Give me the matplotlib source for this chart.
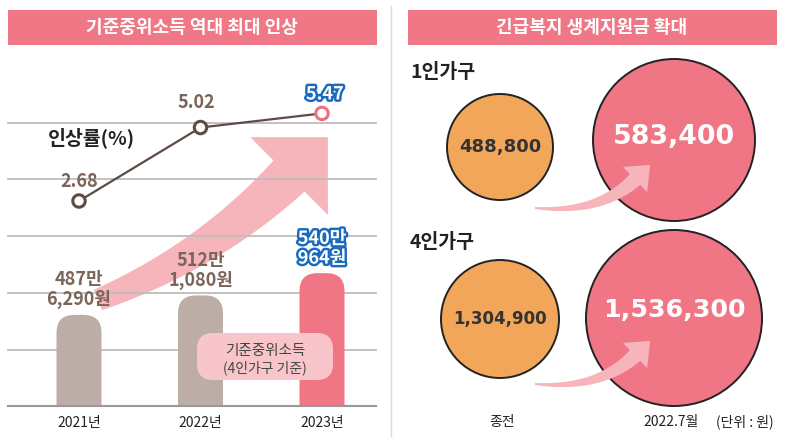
import numpy as np
import matplotlib.pyplot as plt
import matplotlib.patheffects as pe
from matplotlib.patches import FancyBboxPatch, Circle, Polygon, Rectangle

plt.rcParams['font.family'] = ['Noto Sans CJK KR', 'DejaVu Sans']

# ---- data ----
years = ['2021년', '2022년', '2023년']
income_man = [487.6290, 512.1080, 540.0964]          # 기준중위소득 (만원, 4인가구)
income_labels = ['487만\n6,290원', '512만\n1,080원', '540만\n964원']
rate = [2.68, 5.02, 5.47]                            # 인상률 (%)

households = ['1인가구', '4인가구']
before = [488800, 1304900]                           # 종전
after = [583400, 1536300]                            # 2022.7월

# ---- colours ----
PINK = '#f07886'
PINK_BAR = '#f07585'
GRAY_BAR = '#bcaea6'
ARROW = '#f6b5bb'
BROWN = '#7b6559'
LINE = '#5d4b45'
ORANGE = '#f2a65a'
BLUE = '#1a6bc0'
W, H = 800, 441

fig = plt.figure(figsize=(8, 4.41), dpi=100)


def px_axes(z):
    a = fig.add_axes([0, 0, 1, 1], zorder=z)
    a.set_xlim(0, W)
    a.set_ylim(H, 0)
    a.axis('off')
    return a


def bezier_arrow(ax, tail, ctrl, base, tip_len, head_w, w_tail, w_base, color, z=1):
    t = np.linspace(0, 1, 80)[:, None]
    p0, p1, p2 = (np.array(p, float) for p in (tail, ctrl, base))
    b = (1 - t) ** 2 * p0 + 2 * t * (1 - t) * p1 + t ** 2 * p2
    d = 2 * (1 - t) * (p1 - p0) + 2 * t * (p2 - p1)
    d = d / np.linalg.norm(d, axis=1, keepdims=True)
    n = np.column_stack([-d[:, 1], d[:, 0]])
    w = (w_tail + (w_base - w_tail) * t) / 2
    left, right = b + n * w, b - n * w
    head = [p2 + n[-1] * head_w / 2, p2 + d[-1] * tip_len, p2 - n[-1] * head_w / 2]
    pts = np.vstack([left, head, right[::-1]])
    ax.add_patch(Polygon(pts, closed=True, fc=color, ec='none', zorder=z))


back = px_axes(0)
front = px_axes(5)

# headers
for x0, title in [(8, '기준중위소득 역대 최대 인상'), (408, '긴급복지 생계지원금 확대')]:
    back.add_patch(Rectangle((x0, 10), 369, 35, fc=PINK, ec='none'))
    back.text(x0 + 184, 27.5, title, color='white', fontsize=13, fontweight='bold',
              ha='center', va='center')

# divider
back.plot([391, 391], [6, 436], color='#dadada', lw=1)

# big background arrow, then grid lines over it
bezier_arrow(back, (98, 300), (209, 256), (289, 176), 55, 110, 22, 44, ARROW, z=1)
for gy in [123, 179, 236, 293, 350]:
    back.plot([8, 376], [gy, gy], color='#bdbdbd', lw=1.3, zorder=2)

# ---- left: bars (기준중위소득) ----
BASE_PX, TOP_PX, L_PX, R_PX = 406, 50, 8, 376
X0_PX, DX_PX = 79, 121.5
PX_PER_Y = 0.795
Y0 = 373
axb = fig.add_axes([L_PX / W, 1 - BASE_PX / H, (R_PX - L_PX) / W, (BASE_PX - TOP_PX) / H], zorder=2)
axb.set_xlim((L_PX - X0_PX) / DX_PX, (R_PX - X0_PX) / DX_PX)
axb.set_ylim(Y0, Y0 + (BASE_PX - TOP_PX) / PX_PER_Y)
axb.patch.set_visible(False)
for s in ['top', 'left', 'right']:
    axb.spines[s].set_visible(False)
axb.spines['bottom'].set_color('#999999')
axb.spines['bottom'].set_linewidth(1.5)
axb.set_yticks([])

x = np.arange(len(years))
axb.set_xticks(x, years, fontsize=10, color='#222222')
axb.tick_params(axis='x', length=0, pad=7)

bar_w = 45 / DX_PX
rad = 18 / DX_PX
asp = (18 / PX_PER_Y) / rad
bar_colors = [GRAY_BAR, GRAY_BAR, PINK_BAR]
for xi, v, c, lbl in zip(x, income_man, bar_colors, income_labels):
    bottom = Y0 - 60
    axb.add_patch(FancyBboxPatch((xi - bar_w / 2, bottom), bar_w, v - bottom,
                                 boxstyle=f'round,pad=0,rounding_size={rad}',
                                 mutation_aspect=asp, fc=c, ec='none'))
    last = xi == x[-1]
    txt = axb.annotate(lbl, (xi, v), xytext=(0, 4), textcoords='offset points',
                       ha='center', va='bottom', fontsize=13, fontweight='bold',
                       color='white' if last else BROWN, linespacing=1.05, zorder=4)
    if last:
        txt.set_path_effects([pe.withStroke(linewidth=3.5, foreground=BLUE)])

# ---- left: line (인상률) ----
axl = axb.twinx()
axl.set_zorder(3)
axl.set_ylim(-3.849, 7.489)
axl.axis('off')
axl.plot(x, rate, color=LINE, lw=1.6, zorder=1)
axl.scatter(x, rate, s=80, facecolors='white', edgecolors=[LINE, LINE, '#ee6f81'],
            linewidths=2.2, zorder=3)
offsets = [(0, 14), (-3, 18), (2, 14)]
for i, (xi, v) in enumerate(zip(x, rate)):
    last = i == len(rate) - 1
    t = axl.annotate(f'{v:.2f}', (xi, v), xytext=offsets[i], textcoords='offset points',
                     ha='center', va='center', fontsize=13, fontweight='bold',
                     color='white' if last else BROWN, zorder=4)
    if last:
        t.set_path_effects([pe.withStroke(linewidth=3.5, foreground=BLUE)])

front.text(91, 138, '인상률(%)', fontsize=14, fontweight='bold', color='#222222',
           ha='center', va='center')

# legend box
front.add_patch(FancyBboxPatch((197, 333), 136, 47, boxstyle='round,pad=0,rounding_size=16',
                               fc='#f8c5ca', ec='none'))
front.text(265, 351, '기준중위소득', fontsize=10.5, color='#444444', ha='center', va='center')
front.text(265, 368, '(4인가구 기준)', fontsize=10, color='#444444', ha='center', va='center')

# ---- right: 긴급복지 생계지원금 ----
label_y = [73, 243]
before_xy = [(500, 147), (500, 319)]
before_r = [53, 59]
after_xy = [(674, 140), (674, 318)]
after_r = [81, 88]
before_fs = [13, 12]
after_fs = [19.4, 18.2]
after_text_dy = [-3, -8]

for i, hh in enumerate(households):
    front.text(410, label_y[i], hh, fontsize=14, fontweight='bold', color='#222222',
               ha='left', va='center')
    front.add_patch(Circle(before_xy[i], before_r[i], fc=ORANGE, ec='#222222', lw=1.4, zorder=1))
    front.add_patch(Circle(after_xy[i], after_r[i], fc=PINK_BAR, ec='#222222', lw=1.4, zorder=1))
    dy = 176 * i
    bezier_arrow(front, (535, 208 + dy), (599, 214 + dy), (635, 179.5 + dy), 21, 35, 2, 15,
                 ARROW, z=2)
    front.text(*before_xy[i], f'{before[i]:,}', family='DejaVu Sans', fontsize=before_fs[i],
               fontweight='bold', color='#333333', ha='center', va='center', zorder=3)
    front.text(after_xy[i][0], after_xy[i][1] + after_text_dy[i], f'{after[i]:,}',
               family='DejaVu Sans', fontsize=after_fs[i], fontweight='bold', color='white',
               ha='center', va='center', zorder=3)

front.text(502, 422, '종전', fontsize=10, color='#222222', ha='center', va='center')
front.text(671, 422, '2022.7월', fontsize=10, color='#222222', ha='center', va='center')
front.text(745, 422, '(단위 : 원)', fontsize=10, color='#222222', ha='center', va='center')

fig.savefig('out.png', dpi=100)
